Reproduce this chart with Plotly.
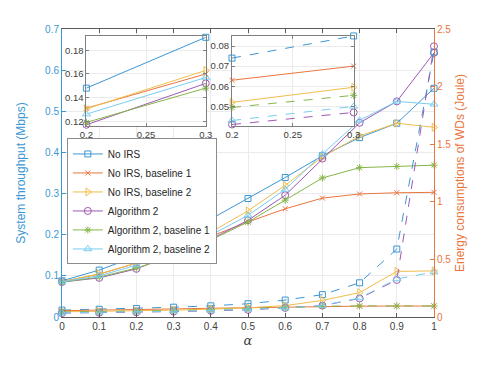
import plotly.graph_objects as go

# alpha values on the x axis
alpha = [0, 0.1, 0.2, 0.3, 0.4, 0.5, 0.6, 0.7, 0.8, 0.9, 1.0]

names = ['No IRS', 'No IRS, baseline 1', 'No IRS, baseline 2',
         'Algorithm 2', 'Algorithm 2, baseline 1', 'Algorithm 2, baseline 2']

# system throughput (Mbps), left axis
thr_noirs = [0.088, 0.114, 0.148, 0.191, 0.238, 0.288, 0.339, 0.392, 0.436, 0.471, 0.556]
thr_noirs_b1 = [0.086, 0.104, 0.131, 0.160, 0.196, 0.231, 0.263, 0.289, 0.299, 0.302, 0.303]
thr_noirs_b2 = [0.086, 0.105, 0.1305, 0.163, 0.206, 0.258, 0.320, 0.389, 0.440, 0.471, 0.461]
thr_alg2 = [0.085, 0.095, 0.117, 0.152, 0.189, 0.235, 0.296, 0.385, 0.472, 0.524, 0.642]
thr_alg2_b1 = [0.085, 0.097, 0.119, 0.148, 0.187, 0.231, 0.284, 0.338, 0.363, 0.366, 0.369]
thr_alg2_b2 = [0.086, 0.100, 0.126, 0.157, 0.199, 0.247, 0.310, 0.396, 0.478, 0.524, 0.517]

# energy consumption of WDs (Joule), right axis
en_noirs = [0.060, 0.067, 0.074, 0.085, 0.097, 0.115, 0.147, 0.194, 0.297, 0.590, 2.30]
en_noirs_b1 = [0.055, 0.058, 0.063, 0.070, 0.076, 0.082, 0.087, 0.092, 0.094, 0.095, 0.095]
en_noirs_b2 = [0.045, 0.048, 0.052, 0.0595, 0.068, 0.080, 0.099, 0.144, 0.212, 0.396, 0.400]
en_alg2 = [0.034, 0.037, 0.041, 0.047, 0.054, 0.062, 0.079, 0.099, 0.161, 0.322, 2.35]
en_alg2_b1 = [0.044, 0.046, 0.0495, 0.0555, 0.063, 0.072, 0.082, 0.094, 0.096, 0.096, 0.096]
en_alg2_b2 = [0.036, 0.039, 0.043, 0.050, 0.057, 0.066, 0.078, 0.100, 0.165, 0.330, 0.390]

thr = [thr_noirs, thr_noirs_b1, thr_noirs_b2, thr_alg2, thr_alg2_b1, thr_alg2_b2]
en = [en_noirs, en_noirs_b1, en_noirs_b2, en_alg2, en_alg2_b1, en_alg2_b2]

colors = ['#3B97D3', '#E9763F', '#F0BD4C', '#9D59B2', '#86B64A', '#77CDF0']
symbols = ['square-open', 'x-thin-open', 'triangle-right-open', 'circle-open',
           'asterisk-open', 'triangle-up-open']
sizes = [6, 5, 7, 7, 6, 7]
en_dash = ['dash', 'solid', 'solid', 'dash', 'dash', 'dash']

BLUE = '#3B97D3'
ORANGE = '#E9763F'
FRAME = '#5a5a5a'
GRID = '#EBEBEB'

fig = go.Figure()

def mk(i):
    return dict(symbol=symbols[i], size=sizes[i], color=colors[i],
                line=dict(color=colors[i], width=1))

# main plot: throughput (solid) and energy
for i in range(6):
    fig.add_trace(go.Scatter(x=alpha, y=thr[i], name=names[i], mode='lines+markers',
                             line=dict(color=colors[i], width=1), marker=mk(i),
                             cliponaxis=False, xaxis='x', yaxis='y'))
for i in range(6):
    fig.add_trace(go.Scatter(x=alpha, y=en[i], mode='lines+markers', showlegend=False,
                             line=dict(color=colors[i], width=1, dash=en_dash[i]),
                             marker=mk(i), cliponaxis=False, xaxis='x', yaxis='y4'))

# zoomed insets at alpha 0.2 - 0.3
for i in range(6):
    fig.add_trace(go.Scatter(x=alpha[2:4], y=thr[i][2:4], mode='lines+markers', showlegend=False,
                             line=dict(color=colors[i], width=1), marker=mk(i),
                             cliponaxis=False, xaxis='x2', yaxis='y2'))
for i in range(6):
    fig.add_trace(go.Scatter(x=alpha[2:4], y=en[i][2:4], mode='lines+markers', showlegend=False,
                             line=dict(color=colors[i], width=1, dash=en_dash[i]),
                             marker=mk(i), cliponaxis=False, xaxis='x3', yaxis='y3'))

inset_y = [0.6634, 0.9773]
inset_ax = dict(showline=True, linecolor='#7f7f7f', linewidth=1, mirror='ticks',
                ticks='inside', ticklen=3, tickcolor='#7f7f7f', showgrid=True,
                gridcolor=GRID, zeroline=False, tickfont=dict(size=9.5, color='#404040'))

# page body adds an 8px margin, so the figure is 16px smaller than the window
fig.update_layout(
    width=469, height=349,
    margin=dict(l=54, r=38, t=21, b=33),
    paper_bgcolor='white', plot_bgcolor='white',
    font=dict(family='Liberation Sans, Arial, sans-serif', size=10, color='#404040'),
    xaxis=dict(domain=[0, 1], range=[0, 1], dtick=0.1, ticks='inside', ticklen=4,
               tickcolor=FRAME, showline=True, linecolor=FRAME, mirror='ticks',
               showgrid=True, gridcolor=GRID, zeroline=False,
               title=dict(text='<i>α</i>', standoff=4,
                          font=dict(family='DejaVu Serif, serif', size=13, color='#404040'))),
    yaxis=dict(domain=[0, 1], range=[0, 0.7], dtick=0.1, ticks='inside', ticklen=4,
               tickcolor=BLUE, showline=True, linecolor=BLUE, showgrid=True,
               gridcolor=GRID, zeroline=False, tickfont=dict(color=BLUE),
               title=dict(text='System throughput (Mbps)', standoff=16,
                          font=dict(size=12, color=BLUE))),
    yaxis4=dict(overlaying='y', side='right', anchor='x', range=[0, 2.5], dtick=0.5,
                ticks='inside', ticklen=4, tickcolor=ORANGE, showline=True,
                linecolor=ORANGE, showgrid=False, zeroline=False,
                tickfont=dict(color=ORANGE),
                title=dict(text='Energy consumptions of WDs (Joule)', standoff=5,
                           font=dict(size=12, color=ORANGE))),
    xaxis2=dict(inset_ax, domain=[0.0655, 0.3865], anchor='y2', range=[0.2, 0.3],
                tickvals=[0.2, 0.25, 0.3]),
    yaxis2=dict(inset_ax, domain=inset_y, anchor='x2', range=[0.116, 0.1925],
                tickvals=[0.12, 0.14, 0.16, 0.18]),
    xaxis3=dict(inset_ax, domain=[0.457, 0.784], anchor='y3', range=[0.2, 0.3],
                tickvals=[0.2, 0.25, 0.3]),
    yaxis3=dict(inset_ax, domain=inset_y, anchor='x3', range=[0.0403, 0.0852],
                tickvals=[0.05, 0.06, 0.07, 0.08]),
    legend=dict(x=0.013, y=0.62, xanchor='left', yanchor='top', bgcolor='white',
                bordercolor='#8c8c8c', borderwidth=1, tracegroupgap=0, itemwidth=30,
                font=dict(size=10, color='#262626')),
    shapes=[
        dict(type='rect', xref='x2', yref='y2', x0=0.2, x1=0.3, y0=0.116, y1=0.1925,
             fillcolor='white', line=dict(width=0), layer='below'),
        dict(type='rect', xref='x3', yref='y3', x0=0.2, x1=0.3, y0=0.0403, y1=0.0852,
             fillcolor='white', line=dict(width=0), layer='below'),
    ],
)

fig.write_html("out.html")
